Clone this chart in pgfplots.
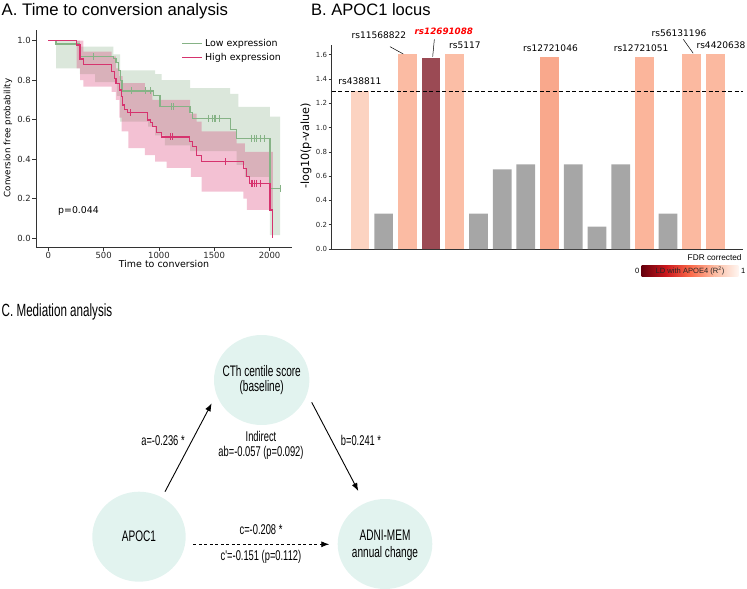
\documentclass[border=0pt]{standalone}
\usepackage{fontspec}
\setmainfont{DejaVu Sans}
\newfontfamily\arialfont{Liberation Sans}
\newfontfamily\narrowfont[FakeStretch=0.66]{Liberation Sans}
\usepackage{pgfplots}
\pgfplotsset{compat=1.18}
\usepgfplotslibrary{fillbetween}
\usetikzlibrary{arrows.meta}

\definecolor{lowline}{HTML}{86B386}
\definecolor{lowband}{HTML}{6FA06F}
\definecolor{highline}{HTML}{D6336E}
\definecolor{spine}{HTML}{333333}
\definecolor{snpgray}{HTML}{A6A6A6}
\definecolor{ldA}{HTML}{FCD3C1}
\definecolor{ldB}{HTML}{FBBBA3}
\definecolor{ldC}{HTML}{9B4A54}
\definecolor{ldD}{HTML}{FBBEA6}
\definecolor{ldE}{HTML}{F9A88C}
\definecolor{ldF}{HTML}{FBB59B}
\definecolor{ldG}{HTML}{FBB9A0}
\definecolor{redsA}{HTML}{67000D}
\definecolor{redsB}{HTML}{CB181D}
\definecolor{redsC}{HTML}{FB6A4A}
\definecolor{redsD}{HTML}{FCBBA1}
\definecolor{redsE}{HTML}{FFF5F0}
\definecolor{mint}{HTML}{E2F3EF}

\begin{document}
\begin{tikzpicture}

% ---------------- A. Kaplan-Meier curves ----------------
\node[anchor=base west, inner sep=0, font=\arialfont\fontsize{16.8}{20}\selectfont]
  at (1.5bp,-15bp) {A. Time to conversion analysis};
\begin{axis}[
  at={(36bp,-247bp)}, anchor=south west,
  scale only axis, width=256bp, height=217bp,
  xmin=-111, xmax=2203, ymin=-0.0456, ymax=1.054,
  axis lines=left, axis line style={-, spine, line width=0.8pt},
  xtick={0,500,1000,1500,2000}, ytick={0,0.2,0.4,0.6,0.8,1.0},
  tick align=outside, major tick length=3.5bp,
  tick style={spine, line width=0.7pt},
  /pgf/number format/assume math mode=true,
  tick label style={font=\fontsize{8.5}{10}\selectfont, text=black!85, inner sep=1.5bp},
  xticklabel style={/pgf/number format/1000 sep={}},
  yticklabel style={/pgf/number format/fixed, /pgf/number format/fixed zerofill, /pgf/number format/precision=1},
  legend style={draw=none, fill=none, at={(0.965,0.968)}, anchor=north east,
    font=\fontsize{9.5}{11}\selectfont, row sep=1.5bp, inner sep=0pt},
  legend cell align=left,
  legend image code/.code={\draw[#1] (0bp,0bp) -- (20bp,0bp);},
]
% confidence bands
\addplot[name path=lowup, draw=none, const plot, forget plot] coordinates {
  (0,1) (70,1) (286,0.97) (589,0.93) (650,0.85) (965,0.83) (1025,0.80)
  (1281,0.76) (1643,0.73) (1718,0.665) (2004,0.615) (2095,0.615)};
\addplot[name path=lowlo, draw=none, const plot, forget plot] coordinates {
  (0,1) (70,0.86) (286,0.83) (423,0.79) (620,0.72) (650,0.59) (903,0.565)
  (965,0.52) (1055,0.47) (1281,0.44) (1703,0.37) (1778,0.31) (2004,0.015) (2095,0.015)};
\addplot[fill=lowband, fill opacity=0.25, draw=none, forget plot] fill between[of=lowup and lowlo];
\addplot[name path=highup, draw=none, const plot, forget plot] coordinates {
  (0,1) (257,1) (317,0.944) (573,0.92) (612,0.86) (642,0.82) (673,0.785)
  (874,0.75) (940,0.70) (1281,0.63) (1342,0.59) (1387,0.54) (1703,0.48)
  (1778,0.437) (2029,0.437)};
\addplot[name path=highlo, draw=none, const plot, forget plot] coordinates {
  (0,1) (257,0.86) (287,0.80) (317,0.767) (573,0.74) (612,0.70) (642,0.61)
  (663,0.54) (723,0.456) (874,0.42) (965,0.387) (1070,0.355) (1290,0.31)
  (1387,0.235) (1763,0.20) (1794,0.142) (2029,0.142)};
\addplot[fill=highline, fill opacity=0.3, draw=none, forget plot] fill between[of=highup and highlo];
% survival estimates
\addplot[lowline, line width=1.1pt, const plot] coordinates {
  (0,1.0) (70,0.983) (286,0.92) (589,0.91) (612,0.89) (636,0.85) (650,0.80)
  (666,0.745) (950,0.72) (1010,0.665) (1281,0.635) (1300,0.606) (1643,0.55)
  (1703,0.505) (2004,0.252) (2095,0.252)};
\addlegendentry{Low expression}
\addplot[highline, line width=1.1pt, const plot] coordinates {
  (0,1.0) (257,0.978) (287,0.907) (317,0.877) (573,0.843) (600,0.81)
  (612,0.784) (642,0.75) (658,0.716) (673,0.674) (690,0.649) (714,0.635)
  (899,0.598) (920,0.583) (945,0.563) (975,0.535) (1025,0.512) (1275,0.488)
  (1300,0.463) (1342,0.42) (1387,0.387) (1763,0.353) (1794,0.31) (1818,0.277)
  (2004,0.142) (2029,0.0)};
\addlegendentry{High expression}
% censored observations
\addplot[lowline, only marks, mark=|, mark size=3.5bp, mark options={line width=0.8pt}, forget plot] coordinates {
  (407,0.92) (754,0.745) (874,0.745) (920,0.745) (1109,0.665) (1130,0.665)
  (1450,0.606) (1486,0.606) (1498,0.606) (1510,0.606) (1546,0.606)
  (1839,0.505) (1860,0.505) (1884,0.505) (1914,0.505) (1950,0.505) (2095,0.252)};
\addplot[highline, only marks, mark=|, mark size=3.5bp, mark options={line width=0.8pt}, forget plot] coordinates {
  (745,0.635) (1100,0.512) (1121,0.512) (1604,0.387)
  (1833,0.277) (1845,0.277) (1860,0.277) (1884,0.277) (1920,0.277)};
\node[anchor=west, inner sep=0, font=\fontsize{9.4}{11}\selectfont] at (axis cs:88,0.137) {p=0.044};
\end{axis}
\node[rotate=90, font=\fontsize{8.8}{10}\selectfont] at (8bp,-138bp) {Conversion free probability};
\node[font=\fontsize{9.5}{11}\selectfont] at (164bp,-264bp) {Time to conversion};

% ---------------- B. Locus bar chart ----------------
\node[anchor=base west, inner sep=0, font=\arialfont\fontsize{16.6}{20}\selectfont]
  at (311bp,-15bp) {B. APOC1 locus};
\begin{axis}[
  at={(331.7bp,-249bp)}, anchor=south west,
  scale only axis, width=411.3bp, height=204bp,
  xmin=-1.19, xmax=16.16, ymin=0, ymax=1.68,
  clip=false,
  axis lines=left, axis line style={-, spine, line width=0.8pt},
  xtick=\empty, ytick={0,0.2,0.4,0.6,0.8,1.0,1.2,1.4,1.6},
  tick align=outside, major tick length=3bp,
  tick style={spine, line width=0.7pt},
  /pgf/number format/assume math mode=true,
  tick label style={font=\fontsize{7}{9}\selectfont, text=black!85, inner sep=1.5bp},
  yticklabel style={/pgf/number format/fixed, /pgf/number format/fixed zerofill, /pgf/number format/precision=1},
]
\addplot[ybar, bar width=0.79, bar shift=0pt, draw=none, fill=snpgray] coordinates {(1,0.291) (5,0.291) (6,0.656) (7,0.697) (9,0.697) (10,0.184) (11,0.697) (13,0.291)};
\addplot[ybar, bar width=0.79, bar shift=0pt, draw=none, fill=ldA] coordinates {(0,1.304)};
\addplot[ybar, bar width=0.79, bar shift=0pt, draw=none, fill=ldB] coordinates {(2,1.606)};
\addplot[ybar, bar width=0.79, bar shift=0pt, draw=none, fill=ldC] coordinates {(3,1.576)};
\addplot[ybar, bar width=0.79, bar shift=0pt, draw=none, fill=ldD] coordinates {(4,1.606)};
\addplot[ybar, bar width=0.79, bar shift=0pt, draw=none, fill=ldE] coordinates {(8,1.581)};
\addplot[ybar, bar width=0.79, bar shift=0pt, draw=none, fill=ldF] coordinates {(12,1.581)};
\addplot[ybar, bar width=0.79, bar shift=0pt, draw=none, fill=ldG] coordinates {(14,1.606)};
\addplot[ybar, bar width=0.79, bar shift=0pt, draw=none, fill=ldG] coordinates {(15,1.606)};
% significance threshold, -log10(0.05)
\addplot[sharp plot, black, line width=0.9pt, dash pattern=on 4bp off 2.5bp] coordinates {(-1.19,1.301) (16.16,1.301)};
\begin{scope}[every node/.style={font=\fontsize{9.1}{11}\selectfont, inner sep=0}]
\node at (axis cs:0,1.384) {rs438811};
\node at (axis cs:0.80,1.763) {rs11568822};
\draw[line width=0.5pt] (axis cs:1.27,1.666) -- (axis cs:1.83,1.606);
\node[text=red, font=\bfseries\itshape\fontsize{8.8}{11}\selectfont] at (axis cs:3.54,1.79) {rs12691088};
\draw[line width=0.5pt] (axis cs:3.14,1.727) -- (axis cs:3.07,1.584);
\node at (axis cs:4.43,1.68) {rs5117};
\node at (axis cs:8.04,1.65) {rs12721046};
\node at (axis cs:11.86,1.65) {rs12721051};
\node at (axis cs:13.46,1.777) {rs56131196};
\draw[line width=0.5pt] (axis cs:13.64,1.727) -- (axis cs:14.06,1.612);
\node at (axis cs:15.23,1.675) {rs4420638};
\end{scope}
\end{axis}
\node[rotate=90, font=\fontsize{11.3}{13}\selectfont] at (306bp,-146bp) {-log10(p-value)};
\node[anchor=east, inner sep=0, font=\arialfont\fontsize{8.3}{10}\selectfont] at (741.7bp,-257.7bp) {FDR corrected};
% LD colour scale
\shade[left color=redsA, right color=redsB] (641.7bp,-265bp) rectangle (666.2bp,-276.5bp);
\shade[left color=redsB, right color=redsC] (666bp,-265bp) rectangle (690.4bp,-276.5bp);
\shade[left color=redsC, right color=redsD] (690.2bp,-265bp) rectangle (714.6bp,-276.5bp);
\shade[left color=redsD, right color=redsE] (714.4bp,-265bp) rectangle (738.3bp,-276.5bp);
\node[font=\arialfont\fontsize{7.6}{9}\selectfont, text=black!85, inner sep=0] at (690bp,-270.7bp) {LD with APOE4 (R\textsuperscript{2})};
\node[anchor=east, font=\arialfont\fontsize{7.6}{9}\selectfont, inner sep=0] at (639.5bp,-270.7bp) {0};
\node[anchor=west, font=\arialfont\fontsize{7.6}{9}\selectfont, inner sep=0] at (741bp,-270.7bp) {1};

% ---------------- C. Mediation diagram ----------------
\begin{scope}[x=1bp, y=-1bp]
\node[anchor=base west, inner sep=0, font=\narrowfont\fontsize{17.7}{20}\selectfont] at (1.5,316) {C. Mediation analysis};
\fill[mint] (261.7,380) ellipse [x radius=47.7bp, y radius=45bp];
\fill[mint] (139,536.7) ellipse [x radius=46.7bp, y radius=45bp];
\fill[mint] (385,544) ellipse [x radius=47.3bp, y radius=45bp];
\begin{scope}[every node/.style={font=\narrowfont\fontsize{15.3}{18}\selectfont, inner sep=0}]
\node at (261.7,371) {CTh centile score};
\node at (261.7,387.7) {(baseline)};
\node at (139,536.7) {APOC1};
\node at (385,535) {ADNI-MEM};
\node at (385,553.3) {annual change};
\end{scope}
\draw[line width=0.9pt, -{Latex[length=8bp, width=6bp]}] (165,491.7) -- (211.7,403.3);
\draw[line width=0.9pt, -{Latex[length=8bp, width=6bp]}] (311.7,402.3) -- (358.3,491);
\draw[line width=0.9pt, dash pattern=on 3bp off 2.5bp, -{Latex[length=8bp, width=6bp]}] (193.3,544.3) -- (329.3,544.3);
\begin{scope}[every node/.style={font=\narrowfont\fontsize{14.2}{17}\selectfont, inner sep=0}]
\node at (163,440.7) {a=-0.236 *};
\node at (361,440.7) {b=0.241 *};
\node at (261,436) {Indirect};
\node at (261,453.3) {ab=-0.057 (p=0.092)};
\node at (261,529.3) {c=-0.208 *};
\node at (261,556.7) {c'=-0.151 (p=0.112)};
\end{scope}
\end{scope}

\useasboundingbox (0,0) rectangle (747bp,-589bp);
\end{tikzpicture}
\end{document}
